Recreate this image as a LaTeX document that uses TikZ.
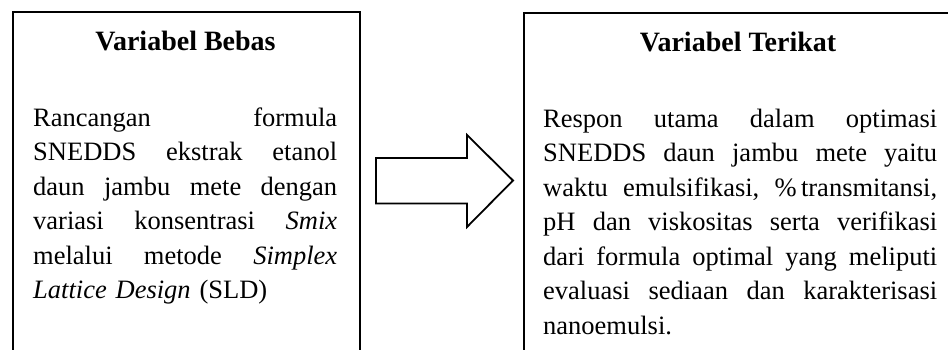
\documentclass[tikz,border=0pt]{standalone}
\usepackage{fontspec}
\setmainfont{Liberation Serif}
% one justified line: words separated by \hfill, set to the column width
\newcommand\jline[2]{\hbox to #1{\strut #2}}
\begin{document}
\begin{tikzpicture}[x=1pt,y=-1pt,
  panel/.style={draw, line width=2.2pt, minimum width=#1, minimum height=360pt,
    anchor=north west, inner sep=0pt},
  heading/.style={font=\fontsize{28}{34.5}\selectfont\bfseries, anchor=base, inner sep=0pt},
  body/.style={font=\fontsize{26.5}{34.5}\selectfont, text width=#1,
    anchor=north west, inner sep=0pt},
  blockarrow/.style={draw, line width=1.8pt, miter limit=10, fill=white},
]
\useasboundingbox (0,0) rectangle (948,350);
\clip (0,0) rectangle (948,350);

% the two panels (their lower edges run past the frame)
\node[panel=347pt] (bebas) at (12,11) {};
\node[panel=433pt] (terikat) at (523,12) {};

% headings
\node[heading] (hbebas) at (185.5,51) {Variabel Bebas};
\node[heading] (hterikat) at (738,52) {Variabel Terikat};

% body text
\node[body=304pt] (tbebas) at (33,102) {%
\jline{304pt}{Rancangan\hfill formula}
\jline{304pt}{SNEDDS\hfill ekstrak\hfill etanol}
\jline{304pt}{daun\hfill jambu\hfill mete\hfill dengan}
\jline{304pt}{variasi\hfill konsentrasi\hfill \textit{Smix}}
\jline{304pt}{melalui\hfill metode\hfill \textit{Simplex}}
\jline{304pt}{\textit{Lattice Design} (SLD)\hfill}};

\node[body=394pt] (tterikat) at (543,103) {%
\jline{394pt}{Respon\hfill utama\hfill dalam\hfill optimasi}
\jline{394pt}{SNEDDS\hfill daun\hfill jambu\hfill mete\hfill yaitu}
\jline{394pt}{waktu\hfill emulsifikasi,\hfill \%\,transmitansi,}
\jline{394pt}{pH\hfill dan\hfill viskositas\hfill serta\hfill verifikasi}
\jline{394pt}{dari\hfill formula\hfill optimal\hfill yang\hfill meliputi}
\jline{394pt}{evaluasi\hfill sediaan\hfill dan\hfill karakterisasi}
\jline{394pt}{nanoemulsi.\hfill}};

% block arrow between the panels
\coordinate (tail) at (376,180.5);
\coordinate (tip) at (513,180.5);
\draw[blockarrow] (tail) ++(0,-22.5) -- ++(91,0) -- ++(0,-23) -- (tip)
  -- ++(-46,46.5) -- ++(0,-23.5) -- ++(-91,0) -- cycle;
\end{tikzpicture}
\end{document}
